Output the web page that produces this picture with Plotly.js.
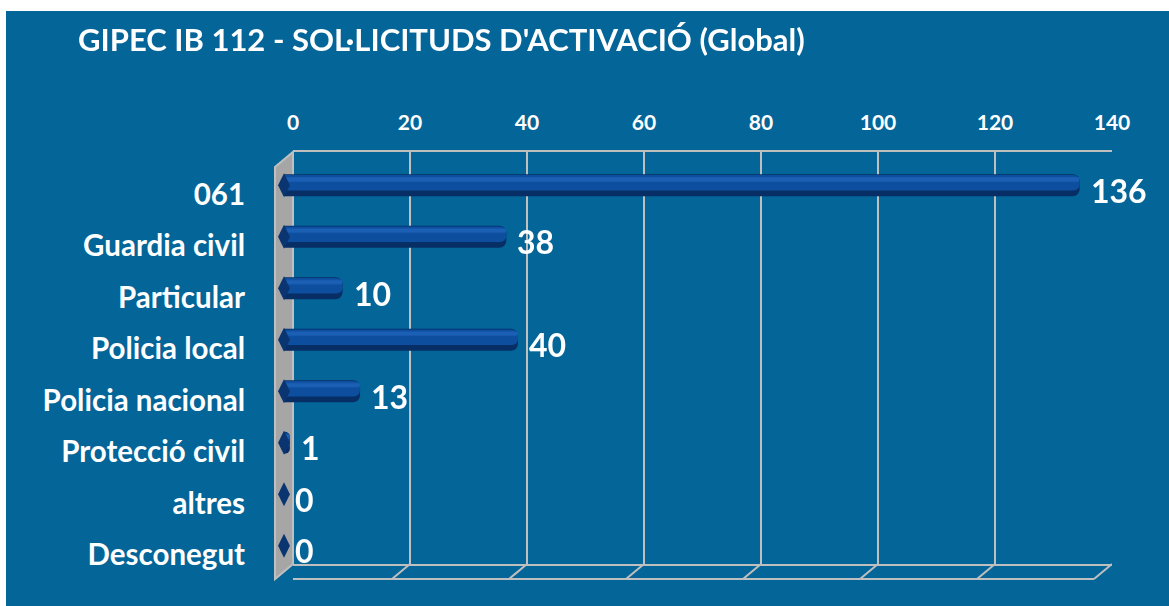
<!DOCTYPE html>
<html>
<head>
<meta charset="utf-8">
<script src="https://cdn.plot.ly/plotly-3.0.1.min.js"></script>
<style>
  html, body { margin: 0; padding: 0; background: #ffffff; }
  #chart { position: absolute; left: 6px; top: 11px; width: 1163px; height: 595px; }
</style>
</head>
<body>
<div id="chart"></div>
<script>
// ---- data ----
const categories = ["061", "Guardia civil", "Particular", "Policia local", "Policia nacional", "Protecció civil", "altres", "Desconegut"];
const values = [136, 38, 10, 40, 13, 1, 0, 0];
const tickValues = [0, 20, 40, 60, 80, 100, 120, 140];
const tickLabels = ["0", "20", "40", "60", "80", "100", "120", "140"];
const chartTitle = "GIPEC IB 112 - SOL·LICITUDS D'ACTIVACIÓ (Global)";

// ---- geometry (pixels) ----
const W = 1163, H = 595;
const M = { l: 269, r: 57, t: 141, b: 27 };
const PW = W - M.l - M.r;  // 837
const PH = H - M.t - M.b;  // 427
const DX = 18, DY = 15;    // 3D depth offset
const FONT = "Lato, 'Open Sans', sans-serif";
const GRID = "#bfbfbf";
const BG = "#036598";

const unitPx = (PW - DX) / 140;
const depthUnits = DX / unitPx;
const catIdx = categories.map((c, i) => i);

const traces = [
  { type: "scatter", mode: "markers", x: categories.map(() => 0), y: catIdx, xaxis: "x2", yaxis: "y2",
    marker: { symbol: "diamond-tall", size: 17, color: "#0a3570", line: { width: 0 } },
    hoverinfo: "skip", cliponaxis: false },
  { type: "bar", orientation: "h", x: values, y: catIdx, xaxis: "x2", yaxis: "y2",
    width: 0.43, marker: { color: "#072f66", cornerradius: 7, line: { width: 0 } },
    hoverinfo: "skip" },
  { type: "bar", orientation: "h", x: values, y: catIdx, xaxis: "x2", yaxis: "y2",
    width: 0.30, offset: -0.20, marker: { color: "#0e4e9e", cornerradius: 6, line: { width: 0 } },
    hoverinfo: "skip" },
  { type: "bar", orientation: "h", x: values, y: catIdx, xaxis: "x2", yaxis: "y2",
    width: 0.08, offset: -0.16, marker: { color: "#2166bb", cornerradius: 2, line: { width: 0 } },
    opacity: 0.8, hoverinfo: "skip" }
];

const shapes = [];
// left wall
shapes.push({ type: "path", xref: "paper", yref: "paper", layer: "below",
  path: `M 0 0 L 0 ${(PH - DY) / PH} L ${DX / PW} 1 L ${DX / PW} ${DY / PH} Z`,
  fillcolor: "#a6a6a6", line: { color: GRID, width: 2 } });
// floor: front edge and depth lines
shapes.push({ type: "line", xref: "x", yref: "paper", x0: -depthUnits, x1: 140 - depthUnits, y0: 0, y1: 0,
  line: { color: GRID, width: 2 } });
tickValues.forEach(v => {
  shapes.push({ type: "line", xref: "x", yref: "paper", x0: v, y0: DY / PH, x1: v - depthUnits, y1: 0,
    line: { color: GRID, width: 2 } });
});

const annotations = values.map((v, i) => ({
  xref: "x2", yref: "y2", x: v, y: i, text: String(v), showarrow: false,
  xanchor: "left", yanchor: "middle", xshift: 9, yshift: -5,
  font: { family: FONT, size: 32, color: "#ffffff", weight: "bold" }
}));

const layout = {
  width: W, height: H,
  paper_bgcolor: BG, plot_bgcolor: "rgba(0,0,0,0)",
  margin: { l: M.l, r: M.r, t: M.t, b: M.b, autoexpand: false },
  showlegend: false,
  barmode: "overlay",
  title: { text: chartTitle, xref: "container", yref: "container", x: 72 / W, xanchor: "left",
    y: 1 - 29 / H, yanchor: "middle",
    font: { family: FONT, size: 31, color: "#ffffff", weight: "bold" } },
  xaxis: { anchor: "y", side: "top", domain: [DX / PW, 1], range: [0, 140],
    tickvals: tickValues, ticktext: tickLabels, ticks: "", ticklabelstandoff: 12,
    tickfont: { family: FONT, size: 21, color: "#ffffff", weight: "bold" },
    showgrid: true, gridcolor: GRID, gridwidth: 2, zeroline: false,
    showline: true, linecolor: GRID, linewidth: 2, mirror: true, fixedrange: true },
  yaxis: { anchor: "x", domain: [DY / PH, 1], range: [0, 1], showticklabels: false, ticks: "",
    showgrid: false, zeroline: false, showline: false, fixedrange: true },
  xaxis2: { anchor: "y2", domain: [(DX / 2) / PW, (PW - DX / 2) / PW], range: [0, 140], visible: false, fixedrange: true },
  yaxis2: { anchor: "x2", domain: [(DY / 2) / PH, (PH - DY / 2) / PH], type: "linear",
    range: [categories.length - 0.5, -0.5],
    tickmode: "array", tickvals: catIdx, ticktext: categories,
    ticks: "", ticklabelstandoff: 38, ticklabelshift: -9,
    tickfont: { family: FONT, size: 29.5, color: "#ffffff", weight: "bold" },
    showgrid: false, zeroline: false, showline: false, fixedrange: true },
  shapes: shapes,
  annotations: annotations
};

Plotly.newPlot("chart", traces, layout, { displayModeBar: false, staticPlot: true });
</script>
</body>
</html>
